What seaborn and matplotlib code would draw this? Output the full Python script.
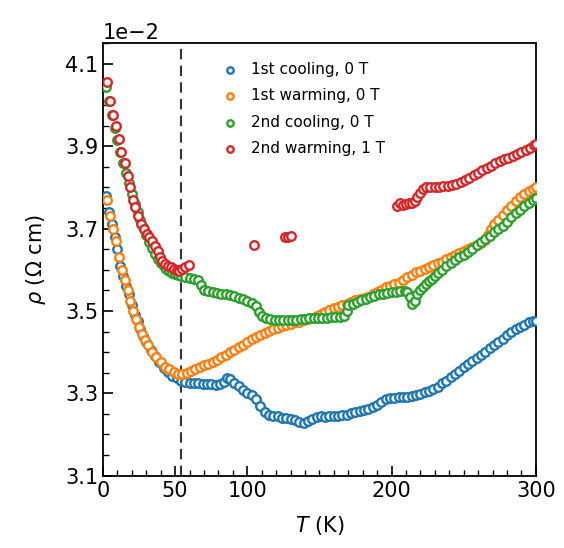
import matplotlib
matplotlib.use("Agg")
import matplotlib.pyplot as plt
import matplotlib.ticker as mticker
import numpy as np
import pandas as pd
import seaborn as sns

# ---------------- data (rho in units of 1e-2 Ohm cm) ----------------
cool1_T = [2, 4, 6, 8, 10, 12, 14, 16, 18, 20, 22, 24, 26, 28, 30, 33, 36, 39, 42, 45,
           48, 51, 54, 57, 60, 63, 66, 69, 72, 75, 78, 81, 84, 86, 88, 91, 94, 97, 100, 103,
           106, 109, 112, 115, 118, 121, 124, 127, 130, 133, 136, 139, 142, 145, 148, 151, 154, 157, 160, 163,
           166, 169, 172, 175, 178, 181, 184, 187, 190, 193, 196, 199, 202, 205, 208, 211, 214, 217, 220, 223,
           226, 229, 232, 235, 238, 241, 244, 247, 250, 253, 256, 259, 262, 265, 268, 271, 274, 277, 280, 283,
           286, 289, 292, 295, 298, 300]
cool1_rho = [3.78, 3.74, 3.71, 3.68, 3.65, 3.61, 3.585, 3.56, 3.54, 3.515, 3.49, 3.475, 3.455, 3.44, 3.425, 3.405, 3.39, 3.375, 3.362, 3.352,
             3.343, 3.336, 3.330, 3.327, 3.326, 3.325, 3.325, 3.323, 3.322, 3.322, 3.320, 3.322, 3.328, 3.336, 3.334, 3.325, 3.318, 3.308, 3.300, 3.295,
             3.285, 3.268, 3.255, 3.248, 3.246, 3.244, 3.241, 3.240, 3.237, 3.234, 3.230, 3.228, 3.232, 3.238, 3.243, 3.244, 3.243, 3.244, 3.245, 3.246,
             3.247, 3.248, 3.251, 3.254, 3.257, 3.260, 3.263, 3.266, 3.272, 3.279, 3.285, 3.288, 3.289, 3.290, 3.291, 3.292, 3.293, 3.296, 3.299, 3.302,
             3.306, 3.310, 3.316, 3.324, 3.331, 3.339, 3.347, 3.355, 3.363, 3.371, 3.378, 3.386, 3.393, 3.401, 3.409, 3.417, 3.425, 3.433, 3.441, 3.449,
             3.456, 3.462, 3.467, 3.472, 3.475, 3.476]

warm1_T = [3, 5, 7, 9, 11, 13, 15, 17, 19, 21, 23, 25, 27, 29, 31, 34, 37, 40, 43, 46,
           49, 52, 55, 58, 61, 64, 67, 70, 73, 76, 79, 82, 85, 88, 91, 94, 97, 100, 103, 106,
           109, 112, 115, 118, 121, 124, 127, 130, 133, 136, 139, 142, 145, 148, 151, 154, 157, 160, 163, 166,
           169, 172, 175, 178, 181, 184, 187, 190, 193, 196, 199, 202, 205, 208, 211, 214, 217, 220, 223, 226,
           229, 232, 235, 238, 241, 244, 247, 250, 253, 256, 259, 262, 265, 267, 269, 271, 274, 277, 280, 283,
           286, 289, 292, 295, 298, 300]
warm1_rho = [3.77, 3.73, 3.70, 3.67, 3.63, 3.60, 3.575, 3.55, 3.525, 3.50, 3.48, 3.46, 3.445, 3.43, 3.418, 3.40, 3.388, 3.375, 3.365, 3.358,
             3.352, 3.347, 3.346, 3.350, 3.355, 3.360, 3.364, 3.368, 3.372, 3.377, 3.382, 3.388, 3.394, 3.400, 3.406, 3.412, 3.418, 3.424, 3.431, 3.437,
             3.442, 3.447, 3.451, 3.455, 3.459, 3.463, 3.466, 3.469, 3.472, 3.474, 3.477, 3.480, 3.484, 3.488, 3.492, 3.497, 3.502, 3.506, 3.510, 3.514,
             3.518, 3.522, 3.526, 3.529, 3.532, 3.535, 3.540, 3.546, 3.552, 3.557, 3.561, 3.565, 3.569, 3.575, 3.582, 3.588, 3.594, 3.598, 3.602, 3.606,
             3.611, 3.616, 3.620, 3.625, 3.630, 3.635, 3.640, 3.645, 3.650, 3.655, 3.660, 3.665, 3.672, 3.685, 3.700, 3.712, 3.722, 3.734, 3.746, 3.756,
             3.767, 3.777, 3.785, 3.791, 3.797, 3.800]

cool2_T = [2, 4, 6, 8, 10, 12, 14, 16, 18, 20, 22, 24, 26, 28, 30, 32, 34, 36, 38, 40,
           42, 44, 46, 48, 50, 52, 54, 57, 60, 63, 66, 68, 70, 73, 76, 79, 82, 85, 88, 91,
           94, 97, 100, 103, 106, 108, 110, 113, 116, 119, 122, 125, 128, 131, 134, 137, 140, 143, 146, 149,
           152, 155, 158, 161, 164, 167, 169, 170, 173, 176, 179, 182, 185, 188, 191, 194, 197, 200, 203, 206,
           209, 211, 213, 214, 216, 218, 220, 222, 224, 226, 228, 230, 232, 235, 238, 241, 244, 247, 250, 253,
           256, 259, 262, 265, 268, 271, 274, 277, 280, 283, 286, 289, 292, 295, 298, 300]
cool2_rho = [4.045, 4.01, 3.975, 3.945, 3.915, 3.885, 3.86, 3.835, 3.81, 3.785, 3.76, 3.74, 3.72, 3.703, 3.685, 3.668, 3.653, 3.638, 3.627, 3.617,
             3.608, 3.601, 3.596, 3.592, 3.590, 3.588, 3.586, 3.583, 3.580, 3.578, 3.575, 3.562, 3.550, 3.548, 3.546, 3.544, 3.542, 3.541, 3.539, 3.536,
             3.532, 3.528, 3.524, 3.519, 3.511, 3.498, 3.487, 3.482, 3.480, 3.478, 3.478, 3.478, 3.478, 3.478, 3.479, 3.480, 3.481, 3.482, 3.483, 3.483,
             3.484, 3.484, 3.485, 3.485, 3.486, 3.487, 3.500, 3.514, 3.518, 3.522, 3.526, 3.530, 3.534, 3.537, 3.540, 3.542, 3.544, 3.546, 3.547, 3.548,
             3.548, 3.545, 3.535, 3.518, 3.525, 3.540, 3.550, 3.558, 3.566, 3.573, 3.578, 3.585, 3.592, 3.600, 3.608, 3.616, 3.623, 3.630, 3.637, 3.644,
             3.651, 3.659, 3.667, 3.675, 3.683, 3.691, 3.699, 3.707, 3.717, 3.727, 3.737, 3.746, 3.755, 3.762, 3.769, 3.774]

warm2_T = [3, 5, 7, 9, 11, 12.5, 15, 17, 19, 21, 22.5, 24.5, 26.5, 28.5, 30.5, 32, 34, 36, 38, 39.5,
           41, 43, 45, 47, 49, 51, 53, 55, 57, 59.5, 105, 126.5, 128.5, 130.5,
           204, 206, 208, 210, 212, 214, 216, 218, 220, 222, 224, 227, 230, 233, 236, 239, 242, 245, 248, 251,
           254, 257, 260, 263, 266, 269, 272, 275, 278, 281, 284, 287, 290, 293, 296, 299, 300]
warm2_rho = [4.055, 4.011, 3.977, 3.948, 3.918, 3.887, 3.859, 3.827, 3.800, 3.770, 3.752, 3.730, 3.710, 3.698, 3.688, 3.680, 3.670, 3.658, 3.645, 3.632,
             3.622, 3.615, 3.610, 3.606, 3.602, 3.600, 3.598, 3.602, 3.606, 3.611, 3.661, 3.679, 3.680, 3.681,
             3.755, 3.762, 3.758, 3.760, 3.762, 3.763, 3.768, 3.776, 3.786, 3.795, 3.800, 3.802, 3.802, 3.802, 3.803, 3.804, 3.806, 3.809, 3.813, 3.818,
             3.823, 3.829, 3.835, 3.842, 3.848, 3.853, 3.859, 3.864, 3.868, 3.872, 3.876, 3.880, 3.885, 3.890, 3.896, 3.903, 3.905]

labels = ["1st cooling, 0 T", "1st warming, 0 T", "2nd cooling, 0 T", "2nd warming, 1 T"]
T_transition = 54

series = [(cool1_T, cool1_rho), (warm1_T, warm1_rho), (cool2_T, cool2_rho), (warm2_T, warm2_rho)]
frames = []
for lab, (t, r) in zip(labels, series):
    frames.append(pd.DataFrame({"T": t, "rho": np.array(r) * 1e-2, "run": lab}))
df = pd.concat(frames, ignore_index=True)

colors = sns.color_palette("tab10", 4)

fig = plt.figure(figsize=(5.64, 5.48), dpi=100)
ax = fig.add_axes([0.1826, 0.132, 0.7674, 0.789])

for lab, c in zip(labels, colors):
    sub = df[df["run"] == lab]
    sns.scatterplot(data=sub, x="T", y="rho", ax=ax, s=38, marker="o",
                    color=c, facecolor="white", edgecolor=c, linewidth=1.7,
                    label=lab, zorder=3)

ax.axvline(T_transition, color="#333333", linestyle=(0, (5, 3)), linewidth=1.5, zorder=2)

ax.set_xlim(0, 300)
ax.set_ylim(0.031, 0.0415)
ax.xaxis.set_major_locator(mticker.FixedLocator([0, 50, 100, 200, 300]))
ax.xaxis.set_minor_locator(mticker.MultipleLocator(10))
ax.yaxis.set_major_locator(mticker.FixedLocator([0.031, 0.033, 0.035, 0.037, 0.039, 0.041]))
ax.yaxis.set_minor_locator(mticker.MultipleLocator(0.0005))
ax.ticklabel_format(axis="y", style="sci", scilimits=(0, 0), useMathText=False)
ax.tick_params(which="major", direction="in", length=7, width=1.2, labelsize=15)
ax.tick_params(which="minor", direction="in", length=4, width=1.0)
ax.yaxis.get_offset_text().set_fontsize(15)
for sp in ax.spines.values():
    sp.set_linewidth(1.3)

ax.set_xlabel(r"$T$ (K)", fontsize=15, labelpad=10)
ax.set_ylabel(r"$\rho$ (Ω cm)", fontsize=15, labelpad=12)

ax.legend(loc="upper left", bbox_to_anchor=(0.23, 0.985), frameon=False, fontsize=11,
          markerscale=0.75, handletextpad=0.4, labelspacing=0.75, borderpad=0.3)

fig.savefig("out.png", dpi=100)
